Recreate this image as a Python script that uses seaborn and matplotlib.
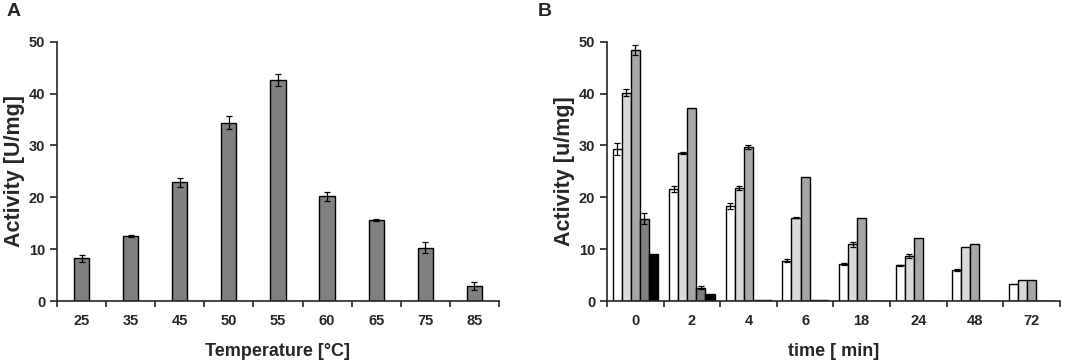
import matplotlib
matplotlib.use("Agg")
import matplotlib.pyplot as plt
import seaborn as sns
import pandas as pd
import numpy as np

# panel A: activity vs temperature
temps = ["25", "35", "45", "50", "55", "60", "65", "75", "85"]
temp_act = [8.2, 12.5, 22.9, 34.4, 42.6, 20.2, 15.6, 10.3, 2.9]
temp_err = [0.7, 0.15, 0.9, 1.3, 1.1, 0.9, 0.2, 1.0, 0.8]

# panel B: activity vs time, five series
times = ["0", "2", "4", "6", "18", "24", "48", "72"]
series = ["s1", "s2", "s3", "s4", "s5"]
s1 = [29.3, 21.6, 18.3, 7.8, 7.1, 6.9, 5.9, 3.3]
s2 = [40.2, 28.5, 21.8, 16.1, 10.9, 8.7, 10.4, 4.0]
s3 = [48.4, 37.3, 29.7, 24.0, 16.1, 12.1, 11.0, 4.05]
s4 = [15.9, 2.6, 0.2, 0.1, 0, 0, 0, 0]
s5 = [9.0, 1.3, 0.2, 0.1, 0, 0, 0, 0]
e1 = [1.1, 0.6, 0.6, 0.3, 0.2, 0.1, 0.2, 0.0]
e2 = [0.7, 0.2, 0.3, 0.1, 0.4, 0.4, 0.0, 0.0]
e3 = [1.0, 0.0, 0.3, 0.0, 0.0, 0.0, 0.0, 0.0]
e4 = [1.1, 0.3, 0.0, 0.0, 0.0, 0.0, 0.0, 0.0]
e5 = [0.0, 0.0, 0.0, 0.0, 0.0, 0.0, 0.0, 0.0]
colors_b = ["#ffffff", "#d9d9d9", "#a6a6a6", "#7f7f7f", "#000000"]

sns.set_style("ticks")
plt.rcParams["font.family"] = ["Liberation Sans", "DejaVu Sans"]
plt.rcParams["font.weight"] = "bold"

fig = plt.figure(figsize=(10.65, 3.62), dpi=100)
axA = fig.add_axes([0.0535, 0.1685, 0.415, 0.716])
axB = fig.add_axes([0.570, 0.1685, 0.425, 0.716])

dfA = pd.DataFrame({"temp": temps, "act": temp_act})
sns.barplot(data=dfA, x="temp", y="act", color="#808080", saturation=1,
            width=0.31, edgecolor="black", linewidth=1, errorbar=None, ax=axA)
for bar, err in zip(axA.containers[0], temp_err):
    axA.errorbar(bar.get_x() + bar.get_width() / 2, bar.get_height(), yerr=err,
                 color="black", capsize=2.5, elinewidth=0.9, capthick=0.9)

rows = []
for name, vals in zip(series, [s1, s2, s3, s4, s5]):
    for t, v in zip(times, vals):
        rows.append({"time": t, "series": name, "act": v})
dfB = pd.DataFrame(rows)
sns.barplot(data=dfB, x="time", y="act", hue="series", palette=colors_b,
            saturation=1, width=0.8, edgecolor="black", linewidth=1,
            errorbar=None, legend=False, ax=axB)
for cont, errs in zip(axB.containers, [e1, e2, e3, e4, e5]):
    for bar, err in zip(cont, errs):
        if err > 0:
            axB.errorbar(bar.get_x() + bar.get_width() / 2, bar.get_height(), yerr=err,
                         color="black", capsize=2.5, elinewidth=0.9, capthick=0.9)

for ax, n, xl, yl in [(axA, len(temps), "Temperature [°C]", "Activity [U/mg]"),
                      (axB, len(times), "time [ min]", "Activity [u/mg]")]:
    ax.set_ylim(0, 50)
    ax.set_yticks([0, 10, 20, 30, 40, 50])
    ax.set_xlim(-0.5, n - 0.5)
    ax.set_xticks(np.arange(-0.5, n, 1.0), minor=True)
    ax.tick_params(axis="x", which="major", length=0, pad=9, labelsize=10.5)
    ax.tick_params(axis="x", which="minor", length=4, width=1.2, direction="out")
    ax.tick_params(axis="y", length=5, width=1.2, labelsize=10.5)
    for lab in ax.get_xticklabels() + ax.get_yticklabels():
        lab.set_fontweight("bold")
    sns.despine(ax=ax)
    ax.spines["left"].set_linewidth(1.2)
    ax.spines["bottom"].set_linewidth(1.2)
    ax.set_xlabel(xl, fontsize=13, fontweight="bold", labelpad=11)
    ax.set_ylabel(yl, fontsize=15.5, fontweight="bold", labelpad=3)

fig.text(0.006, 0.992, "A", fontsize=14, fontweight="bold", va="top")
fig.text(0.505, 0.992, "B", fontsize=14, fontweight="bold", va="top")

fig.savefig("out.png", dpi=100)
